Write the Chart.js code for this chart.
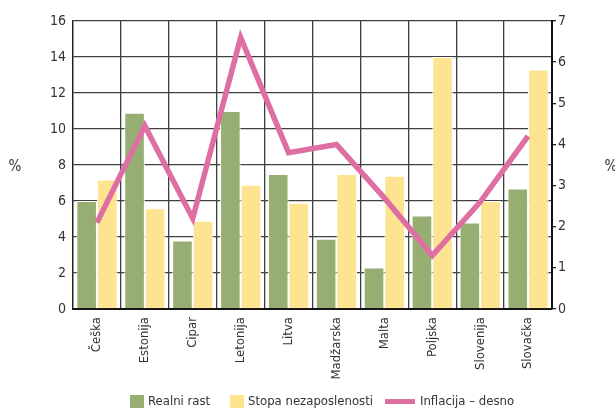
<!DOCTYPE html>
<html>
<head>
<meta charset="utf-8">
<script src="https://cdn.jsdelivr.net/npm/chart.js@4.4.1/dist/chart.umd.min.js"></script>
<style>
  html, body { margin: 0; padding: 0; background: #fff; }
</style>
</head>
<body>
<canvas id="chart" width="615" height="408"></canvas>
<script>
// podaci
const countries = ['Češka', 'Estonija', 'Cipar', 'Letonija', 'Litva', 'Madžarska', 'Malta', 'Poljska', 'Slovenija', 'Slovačka'];
const realniRast = [6.0, 10.9, 3.8, 11.0, 7.5, 3.9, 2.3, 5.2, 4.8, 6.7];
const stopaNezaposlenosti = [7.2, 5.6, 4.9, 6.9, 5.9, 7.5, 7.4, 14.0, 6.0, 13.3];
const inflacija = [2.1, 4.45, 2.2, 6.6, 3.8, 4.0, 2.7, 1.3, 2.6, 4.2];
const leftTicks = [0, 2, 4, 6, 8, 10, 12, 14, 16];
const rightTicks = [0, 1, 2, 3, 4, 5, 6, 7];

const FONT = "'Liberation Sans Narrow', 'DejaVu Sans Condensed', 'Roboto Condensed', sans-serif";
const GREEN = '#97ae72';
const YELLOW = '#fee391';
const PINK = '#de6fa3';
const GRID = '#3f3f3f';
const TEXT = '#333333';

Chart.defaults.font.family = FONT;
Chart.defaults.font.size = 13;
Chart.defaults.color = TEXT;

// postotak lijevo i desno + legenda
const legendX = [130, 230, 385];
const extras = {
  id: 'extras',
  afterDraw(chart) {
    const ctx = chart.ctx;
    ctx.save();
    ctx.font = '15px ' + FONT;
    ctx.fillStyle = TEXT;
    ctx.textBaseline = 'middle';
    ctx.textAlign = 'center';
    ctx.fillText('%', 15, 167);
    ctx.fillText('%', 611, 167);

    // legenda
    ctx.font = '13px ' + FONT;
    ctx.textAlign = 'left';
    const y = 401;
    chart.data.datasets.forEach((d, i) => {
      let x = legendX[i];
      if (d.type === 'line') {
        ctx.fillStyle = d.borderColor;
        ctx.fillRect(x, y - 2, 30, 5);
        x += 35;
      } else {
        ctx.fillStyle = d.backgroundColor;
        ctx.fillRect(x, y - 6, 14, 14);
        x += 18;
      }
      ctx.fillStyle = TEXT;
      ctx.fillText(d.label, x, y + 1);
    });
    ctx.restore();
  }
};

new Chart(document.getElementById('chart'), {
  data: {
    labels: countries,
    datasets: [
      {
        type: 'bar',
        label: 'Realni rast',
        data: realniRast,
        backgroundColor: GREEN,
        borderColor: '#ffffff',
        borderWidth: 1,
        yAxisID: 'y',
        order: 1,
        categoryPercentage: 0.86,
        barPercentage: 1.0
      },
      {
        type: 'bar',
        label: 'Stopa nezaposlenosti',
        data: stopaNezaposlenosti,
        backgroundColor: YELLOW,
        borderColor: '#ffffff',
        borderWidth: 1,
        yAxisID: 'y',
        order: 1,
        categoryPercentage: 0.86,
        barPercentage: 1.0
      },
      {
        type: 'line',
        label: 'Inflacija – desno',
        data: inflacija,
        borderColor: PINK,
        backgroundColor: PINK,
        borderWidth: 5.5,
        pointRadius: 0,
        tension: 0,
        borderJoinStyle: 'miter',
        yAxisID: 'y1',
        order: 0
      }
    ]
  },
  options: {
    responsive: false,
    animation: false,
    layout: { padding: { top: 21, bottom: 0, left: 0, right: 0 } },
    plugins: {
      legend: { display: false },
      tooltip: { enabled: false }
    },
    scales: {
      x: {
        offset: true,
        grid: { offset: true, color: GRID, lineWidth: 1.3, drawTicks: false },
        border: { color: '#111', width: 2 },
        ticks: { minRotation: 90, maxRotation: 90, padding: 8, autoSkip: false, font: { size: 13 } },
        afterFit(scale) { scale.height = 99; }
      },
      y: {
        position: 'left',
        min: 0,
        max: 16,
        afterBuildTicks(scale) { scale.ticks = leftTicks.map(v => ({ value: v })); },
        grid: { color: GRID, lineWidth: 1.3, drawTicks: false },
        border: { color: '#222', width: 1.3 },
        ticks: { padding: 7, font: { size: 14 } },
        afterFit(scale) { scale.width = 73; }
      },
      y1: {
        position: 'right',
        min: 0,
        max: 7,
        afterBuildTicks(scale) { scale.ticks = rightTicks.map(v => ({ value: v })); },
        grid: { drawOnChartArea: false, color: '#222', lineWidth: 1.3, tickLength: 4 },
        border: { color: '#111', width: 2 },
        ticks: { padding: 2, font: { size: 14 } },
        afterFit(scale) { scale.width = 63; }
      }
    }
  },
  plugins: [extras]
});
</script>
</body>
</html>
